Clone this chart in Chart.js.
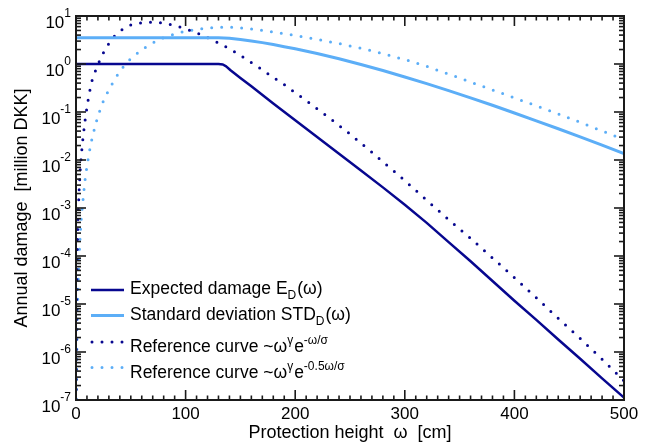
<!DOCTYPE html>
<html>
<head>
<meta charset="utf-8">
<script src="https://cdn.jsdelivr.net/npm/chart.js@4"></script>
<style>
  html, body { margin: 0; padding: 0; background: #fff; }
  #wrap { width: 667px; height: 447px; }
</style>
</head>
<body>
<div id="wrap"><canvas id="damageChart" width="667" height="447"></canvas></div>
<script>
// protection height (cm) vs annual damage (million DKK)
const edHeight = [0, 130, 134, 137, 141, 150, 160, 180, 200, 220, 240, 260, 280, 300, 320, 340, 360, 380, 400, 420, 440, 460, 480, 500];
const edDamage = [1, 1, 0.977, 0.891, 0.741, 0.513, 0.343, 0.151, 0.0676, 0.0302, 0.0135, 6.03e-3, 2.69e-3, 1.17e-3, 4.90e-4, 1.95e-4, 7.76e-5, 3.02e-5, 1.17e-5, 4.68e-6, 1.82e-6, 7.24e-7, 2.82e-7, 1.12e-7];

const stdHeight = [0, 130, 135, 140, 150, 160, 170, 180, 190, 200, 220, 240, 260, 280, 300, 320, 340, 360, 380, 400, 420, 440, 460, 480, 500];
const stdDamage = [3.51, 3.51, 3.50, 3.43, 3.24, 3.02, 2.79, 2.54, 2.29, 2.07, 1.66, 1.29, 0.977, 0.733, 0.537, 0.389, 0.279, 0.197, 0.138, 0.0955, 0.0653, 0.0447, 0.0302, 0.0204, 0.0136];

const ref1Height = [0.1, 0.2, 0.3, 0.5, 0.75, 1, 1.5, 2, 3, 4, 5, 6, 8, 10, 12, 15, 20, 25, 30, 35, 40, 45, 50, 60, 70, 80, 90, 100, 110, 120, 130, 140, 150, 160, 170, 180, 190, 200, 210, 220, 230, 240, 250, 260, 270, 280, 290, 300, 320, 340, 360, 380, 400, 420, 440, 460, 480, 500];
const ref1Damage = [6.31e-8, 5.01e-7, 1.78e-6, 1.0e-5, 3.16e-5, 8.91e-5, 3.16e-4, 7.94e-4, 2.82e-3, 7.08e-3, 0.0135, 0.024, 0.0603, 0.126, 0.24, 0.49, 0.977, 1.70, 2.69, 3.80, 4.84, 5.82, 6.53, 7.24, 7.50, 7.16, 6.31, 5.43, 4.47, 3.55, 2.75, 2.09, 1.51, 1.07, 0.759, 0.525, 0.372, 0.251, 0.174, 0.117, 0.0794, 0.0525, 0.0347, 0.0224, 0.0145, 9.12e-3, 5.89e-3, 3.72e-3, 1.45e-3, 5.75e-4, 2.34e-4, 9.12e-5, 3.55e-5, 1.35e-5, 5.01e-6, 1.91e-6, 7.08e-7, 2.51e-7];

const ref2Height = [0.3, 0.5, 1, 1.5, 2, 3, 4, 5, 6, 8, 10, 12, 15, 20, 25, 30, 35, 40, 45, 50, 60, 70, 80, 90, 100, 110, 120, 130, 140, 150, 160, 170, 180, 190, 200, 220, 240, 260, 280, 300, 320, 340, 360, 380, 400, 420, 440, 460, 480, 500];
const ref2Damage = [3.98e-8, 2.24e-7, 2.51e-6, 1.0e-5, 2.82e-5, 1.12e-4, 3.16e-4, 7.08e-4, 1.20e-3, 3.47e-3, 7.41e-3, 0.0141, 0.0309, 0.0832, 0.170, 0.292, 0.465, 0.705, 0.989, 1.29, 2.0, 2.75, 3.55, 4.22, 4.84, 5.25, 5.62, 5.82, 5.89, 5.69, 5.37, 5.01, 4.62, 4.27, 3.94, 3.27, 2.66, 2.14, 1.64, 1.24, 0.891, 0.617, 0.422, 0.288, 0.197, 0.135, 0.0912, 0.061, 0.0403, 0.0266];

const xTickLabels = [0, 100, 200, 300, 400, 500];
const yExponents = [-7, -6, -5, -4, -3, -2, -1, 0, 1];

// legend entries: [text, style] pieces
const legendLabels = [
  [['Expected damage E', 'n'], ['D', 'sub'], ['(ω)', 'n']],
  [['Standard deviation STD', 'n'], ['D', 'sub'], ['(ω)', 'n']],
  [['Reference curve ~ω', 'n'], ['γ', 'sup'], ['e', 'n'], ['-ω/σ', 'sup']],
  [['Reference curve ~ω', 'n'], ['γ', 'sup'], ['e', 'n'], ['-0.5ω/σ', 'sup']]
];

const DARK = '#07078f';
const LIGHT = '#5caef7';
const AXIS = '#1a1a1a';
const FONT = '"Liberation Sans", Arial, sans-serif';

function toPoints(xs, ys) {
  return xs.map((x, i) => ({ x: x, y: ys[i] }));
}

function setFont(ctx, style) {
  ctx.font = (style === 'n' ? '17.5px ' : '12px ') + FONT;
}

function drawRich(ctx, pieces, x, y) {
  ctx.textAlign = 'left';
  ctx.textBaseline = 'alphabetic';
  pieces.forEach(p => {
    setFont(ctx, p[1]);
    let dy = 0;
    if (p[1] === 'sub') dy = 5;
    if (p[1] === 'sup') dy = -8;
    ctx.fillText(p[0], x, y + dy);
    x += ctx.measureText(p[0]).width + (p[1] === 'n' ? 0 : 1);
  });
}

const styles = [
  { color: DARK, width: 2.5, dash: [] },
  { color: LIGHT, width: 3, dash: [] },
  { color: DARK, width: 3, dash: [0, 10] },
  { color: LIGHT, width: 3, dash: [0, 10] }
];

const framePlugin = {
  id: 'frame',
  afterDraw(chart) {
    const ctx = chart.ctx;
    const a = chart.chartArea;
    const xs = chart.scales.x;
    const ys = chart.scales.y;

    ctx.save();
    ctx.strokeStyle = AXIS;
    ctx.fillStyle = '#000';

    function seg(x1, y1, x2, y2) {
      ctx.beginPath();
      ctx.moveTo(x1, y1);
      ctx.lineTo(x2, y2);
      ctx.stroke();
    }

    // ticks, pointing inward on all four sides
    ctx.lineWidth = 1.6;
    for (let v = 0; v <= 500; v += 10) {
      const px = xs.getPixelForValue(v);
      const len = v % 100 === 0 ? 10 : 4.5;
      seg(px, a.bottom, px, a.bottom - len);
      seg(px, a.top, px, a.top + len);
    }
    for (let e = -7; e <= 1; e++) {
      for (let m = 1; m <= 9; m++) {
        if (e === 1 && m > 1) break;
        const py = ys.getPixelForValue(m * Math.pow(10, e));
        const len = m === 1 ? 10 : 5;
        seg(a.left, py, a.left + len, py);
        seg(a.right, py, a.right - len, py);
      }
    }

    ctx.lineWidth = 2;
    ctx.strokeRect(a.left, a.top, a.right - a.left, a.bottom - a.top);

    // x tick labels
    ctx.font = '17px ' + FONT;
    ctx.textAlign = 'center';
    ctx.textBaseline = 'alphabetic';
    xTickLabels.forEach(v => {
      ctx.fillText(String(v), xs.getPixelForValue(v), 419);
    });

    // y tick labels 10^n
    yExponents.forEach(e => {
      const py = ys.getPixelForValue(Math.pow(10, e));
      const right = 71;
      ctx.font = '12px ' + FONT;
      const supW = ctx.measureText(String(e)).width;
      ctx.textAlign = 'left';
      ctx.fillText(String(e), right - supW, py + 1);
      ctx.font = '17px ' + FONT;
      ctx.textAlign = 'right';
      ctx.fillText('10', right - supW, py + 12);
    });

    // axis titles
    ctx.font = '18px ' + FONT;
    ctx.textAlign = 'center';
    ctx.fillText('Protection height  ω  [cm]', (a.left + a.right) / 2, 438);

    ctx.save();
    ctx.translate(27, (a.top + a.bottom) / 2);
    ctx.rotate(-Math.PI / 2);
    ctx.fillText('Annual damage  [million DKK]', 0, 0);
    ctx.restore();

    // legend
    const rows = [290, 315.5, 342, 367.5];
    const baselines = [293.5, 319.5, 351.5, 377.5];
    legendLabels.forEach((pieces, i) => {
      const s = styles[i];
      ctx.strokeStyle = s.color;
      ctx.lineWidth = s.width;
      ctx.setLineDash(s.dash);
      ctx.lineCap = s.dash.length ? 'round' : 'butt';
      seg(s.dash.length ? 92 : 91, rows[i], 124, rows[i]);
      ctx.setLineDash([]);
      ctx.lineCap = 'butt';
      ctx.fillStyle = '#000';
      drawRich(ctx, pieces, 130, baselines[i]);
    });

    ctx.restore();
  }
};

document.addEventListener('DOMContentLoaded', function() {
  const ctx = document.getElementById('damageChart').getContext('2d');

  const series = [
    toPoints(edHeight, edDamage),
    toPoints(stdHeight, stdDamage),
    toPoints(ref1Height, ref1Damage),
    toPoints(ref2Height, ref2Damage)
  ];
  const names = ['Expected damage', 'Standard deviation', 'Reference curve 1', 'Reference curve 2'];

  const datasets = series.map((data, i) => ({
    label: names[i],
    data: data,
    borderColor: styles[i].color,
    borderWidth: styles[i].width,
    borderDash: styles[i].dash,
    borderCapStyle: styles[i].dash.length ? 'round' : 'butt',
    borderJoinStyle: 'round',
    pointRadius: 0,
    fill: false,
    tension: 0
  }));

  new Chart(ctx, {
    type: 'line',
    data: { datasets: datasets },
    options: {
      responsive: false,
      animation: false,
      layout: { padding: { left: 76, top: 16, right: 43, bottom: 47 } },
      plugins: { legend: { display: false }, tooltip: { enabled: false } },
      scales: {
        x: { type: 'linear', min: 0, max: 500, display: false },
        y: { type: 'logarithmic', min: 1e-7, max: 10, display: false }
      }
    },
    plugins: [framePlugin]
  });
});
</script>
</body>
</html>
